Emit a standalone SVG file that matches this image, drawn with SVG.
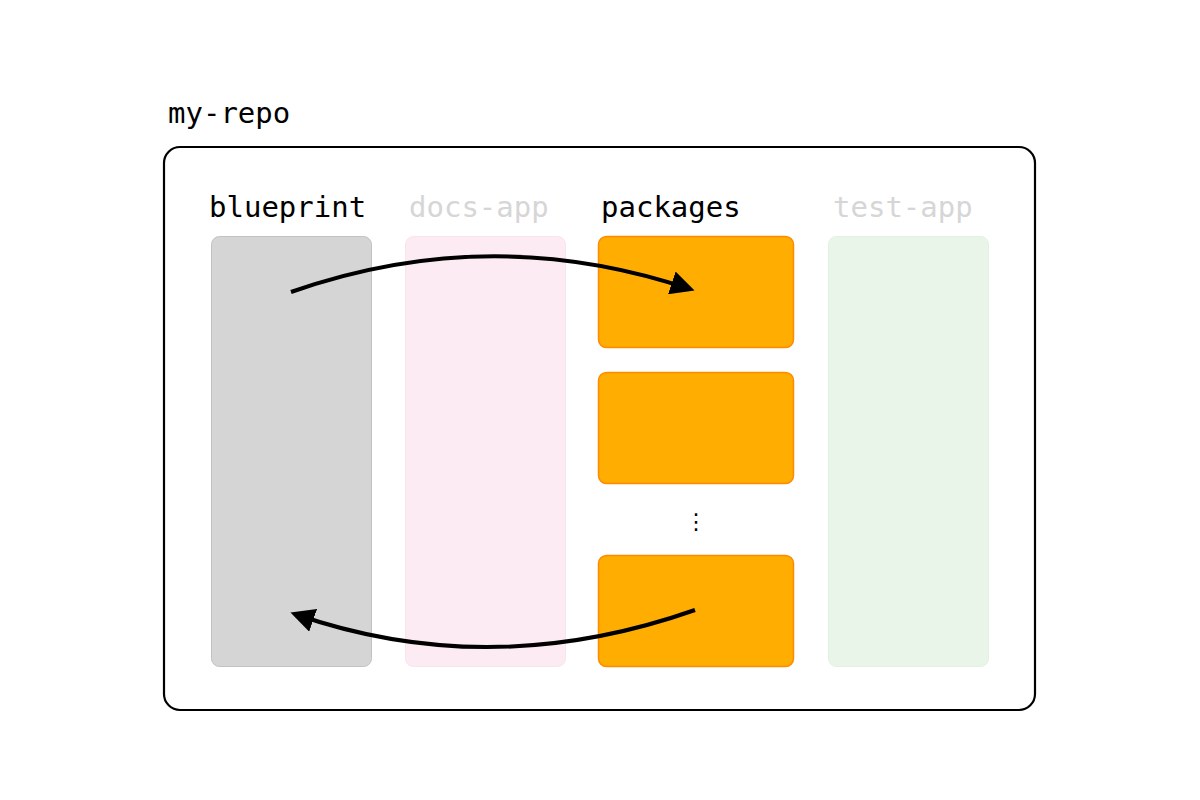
<svg xmlns="http://www.w3.org/2000/svg" width="1200" height="800" viewBox="0 0 1200 800">
  <style>
    .lbl { font-family: "DejaVu Sans Mono", "Liberation Mono", monospace; font-size: 29px; }
    .dark { fill: #000000; }
    .faint { fill: #d6d6d6; }
    .pkg { fill: #ffad00; stroke: #ff8a00; stroke-width: 1.5; }
    .conn { fill: none; stroke: #000000; stroke-width: 4; stroke-linecap: butt; }
  </style>
  <defs>
    <marker id="arrow" viewBox="0 0 10 10" refX="8" refY="5" markerWidth="6" markerHeight="6" orient="auto" markerUnits="strokeWidth">
      <path d="M0,0 L10,5 L0,10 z" fill="#000000"/>
    </marker>
  </defs>
  <rect width="1200" height="800" fill="#ffffff"/>

  <g id="my-repo">
    <text class="lbl dark" x="168" y="123">my-repo</text>
    <rect x="164" y="147" width="871" height="563" rx="16" fill="#ffffff" stroke="#000000" stroke-width="2.2"/>
  </g>

  <g id="blueprint">
    <text class="lbl dark" x="209" y="217">blueprint</text>
    <rect x="211.5" y="236.5" width="160" height="430" rx="8" fill="#d5d5d5" stroke="#c2c2c2" stroke-width="1"/>
  </g>

  <g id="docs-app">
    <text class="lbl faint" x="409" y="217">docs-app</text>
    <rect x="405.5" y="236.5" width="160" height="430" rx="8" fill="#fdebf3" stroke="#fbe3ee" stroke-width="1"/>
  </g>

  <g id="packages">
    <text class="lbl dark" x="601" y="217">packages</text>
    <rect class="pkg" x="598.5" y="236.5" width="195" height="111" rx="8"/>
    <rect class="pkg" x="598.5" y="372.5" width="195" height="111" rx="8"/>
    <text x="696" y="529" font-family="DejaVu Sans, sans-serif" font-size="22" text-anchor="middle" fill="#000000">⋮</text>
    <rect class="pkg" x="598.5" y="555.5" width="195" height="111" rx="8"/>
  </g>

  <g id="test-app">
    <text class="lbl faint" x="833" y="217">test-app</text>
    <rect x="828.5" y="236.5" width="160" height="430" rx="8" fill="#e9f5e8" stroke="#e2f1e1" stroke-width="1"/>
  </g>

  <g id="connectors">
    <path class="conn" d="M291,292 Q490,222 690,289" marker-end="url(#arrow)"/>
    <path class="conn" d="M695,610 Q490,682 295,614" marker-end="url(#arrow)"/>
  </g>
</svg>
